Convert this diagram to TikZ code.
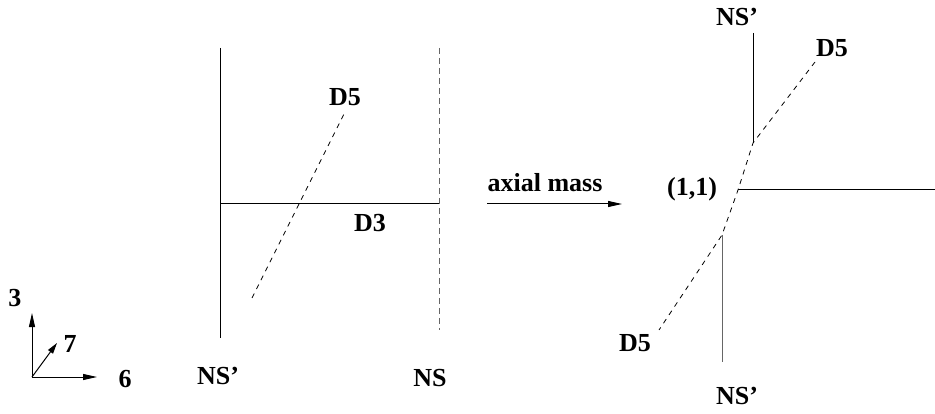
\documentclass[tikz,border=0pt]{standalone}
\usepackage{fontspec}
\setmainfont{Liberation Serif}
\usetikzlibrary{arrows.meta}
\tikzset{
  lbl/.style={font=\bfseries\fontsize{26}{30}\selectfont, inner sep=0pt},
  brane/.style={line width=1pt, black},
  graybrane/.style={line width=1pt, black!60},
  grayd/.style={line width=1pt, black!60, dash pattern=on 6pt off 4pt},
  dfive/.style={line width=0.8pt, black, dash pattern=on 5pt off 5pt},
  arr/.style={line width=1pt, -{Triangle[length=14pt,width=6pt]}},
}
\begin{document}
\begin{tikzpicture}[x=1pt,y=-1pt]
\useasboundingbox (0,0) rectangle (935,414);
% ---- left configuration ----
\coordinate (nsLt) at (220,48);
\coordinate (nsLb) at (220,338);
\coordinate (nsRt) at (439,48);
\coordinate (nsRb) at (439,330);
\coordinate (d3a) at (220,204);
\coordinate (d3b) at (439,204);
\coordinate (d5a) at (252,298);
\coordinate (d5b) at (344,114);
\draw[brane] (nsLt) -- (nsLb);
\draw[grayd] (nsRt) -- (nsRb);
\draw[brane] (d3a) -- (d3b);
\draw[dfive] (d5a) -- (d5b);
\node[lbl] (lD5) at (345,97) {D5};
\node[lbl] (lD3) at (370,223) {D3};
\node[lbl] (lNSp) at (218,376) {NS'};
\node[lbl] (lNS) at (430,378) {NS};
% ---- arrow ----
\coordinate (ama) at (487,204);
\coordinate (amb) at (622,204);
\draw[arr] (ama) -- (amb);
\node[lbl] (am) at (545,183) {axial mass};
% ---- right configuration ----
\coordinate (rNSt) at (753,33);
\coordinate (rNSm) at (753,143);
\coordinate (rNSb) at (722,362);
\coordinate (rNSn) at (722,235);
\coordinate (rh1) at (738,190);
\coordinate (rh2) at (935,190);
\coordinate (rd1) at (815,62);
\coordinate (rd2) at (659,330);
\draw[brane] (rNSt) -- (rNSm);
\draw[graybrane] (rNSn) -- (rNSb);
\draw[brane] (rh1) -- (rh2);
\draw[dfive] (rd1) -- (rNSm) -- (rh1) -- (rNSn) -- (rd2);
\node[lbl] (rtNS) at (737,17) {NS'};
\node[lbl] (rtD5) at (832,48) {D5};
\node[lbl] (r11) at (692,189) {(1,1)};
\node[lbl] (rbD5) at (635,343) {D5};
\node[lbl] (rbNS) at (737,396) {NS'};
% ---- axes ----
\coordinate (o) at (32,377);
\coordinate (ax3) at (32,313);
\coordinate (ax6) at (97,377);
\coordinate (ax7) at (57,343);
\draw[arr] (o) -- (ax3);
\draw[arr] (o) -- (ax6);
\draw[line width=1pt, -{Triangle[length=11pt,width=6pt]}] (o) -- (ax7);
\node[lbl] (t3) at (15,298) {3};
\node[lbl] (t7) at (70,344) {7};
\node[lbl] (t6) at (125,379) {6};
\end{tikzpicture}
\end{document}
